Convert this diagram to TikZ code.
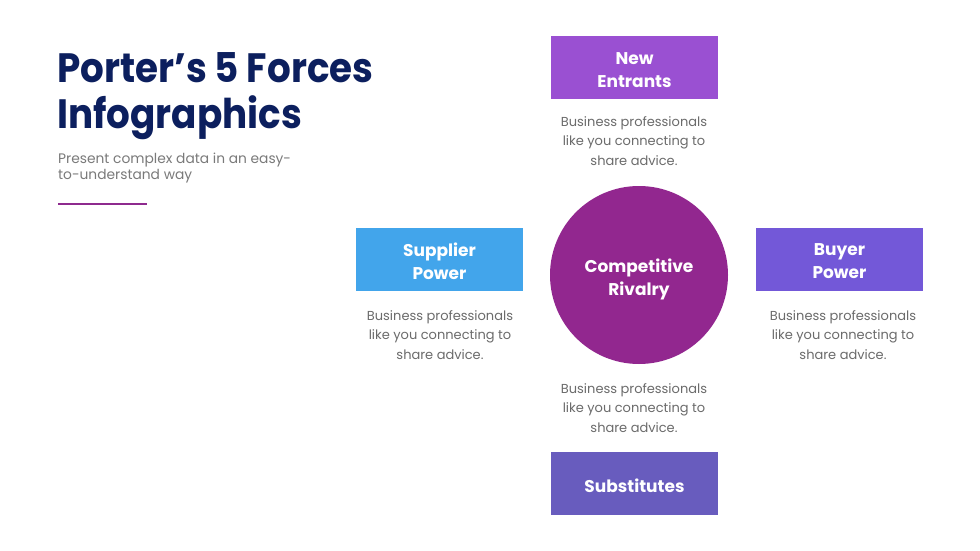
\documentclass[tikz,border=0pt]{standalone}
\usepackage{fontspec}
\setmainfont{Poppins}
\definecolor{navy}{HTML}{0C1F5E}
\definecolor{subgray}{HTML}{7A7A7A}
\definecolor{descgray}{HTML}{6B6B6B}
\definecolor{accent}{HTML}{8E2A8E}
\definecolor{cnew}{HTML}{9A50D2}
\definecolor{csup}{HTML}{42A5EB}
\definecolor{cbuy}{HTML}{7358D8}
\definecolor{csub}{HTML}{685CBE}
\definecolor{ccirc}{HTML}{92278F}
\tikzset{
  forcebox/.style={minimum width=167pt, minimum height=63pt, inner sep=0pt},
  boxtext/.style={text=white, inner sep=0pt, yshift=-2.5pt,
    font=\fontsize{17}{23}\selectfont\bfseries, align=center},
  desc/.style={text=descgray, font=\fontsize{13}{19.5}\selectfont, align=center, inner sep=0pt},
  titletext/.style={anchor=base west, inner sep=0pt, text=navy, font=\fontsize{41}{46}\selectfont\bfseries},
  subtext/.style={anchor=base west, inner sep=0pt, text=subgray, font=\fontsize{13.8}{16}\selectfont},
}
\begin{document}
\begin{tikzpicture}[x=1pt,y=-1pt]
\fill[white] (0,0) rectangle (980,551);
\useasboundingbox (0,0) rectangle (980,551);
% title
\node[titletext] (t1) at (57,82) {\scalebox{0.91}[1]{Porter’s 5 Forces}};
\node[titletext] (t2) at (57,128) {\scalebox{0.91}[1]{Infographics}};
\node[subtext] (s1) at (58,163) {Present complex data in an easy-};
\node[subtext] (s2) at (58,179) {to-understand way};
\coordinate (la) at (58,204);
\coordinate (lb) at (147,204);
\draw[accent, line width=2.5pt] (la) -- (lb);
% boxes
\node[forcebox, fill=cnew] (new) at (634.5,67.5) {};
\node[forcebox, fill=csup] (sup) at (439.5,259) {};
\node[forcebox, fill=cbuy] (buy) at (839.5,259) {};
\node[forcebox, fill=csub] (subs) at (634.5,483) {};
\node[boxtext] (newt) at (new.center) {New\\Entrants};
\node[boxtext] (supt) at (sup.center) {Supplier\\Power};
\node[boxtext] (buyt) at (buy.center) {Buyer\\Power};
\node[boxtext] (subt) at (subs.center) {Substitutes};
% circle
\node[circle, fill=ccirc, minimum size=178pt, inner sep=0pt] (riv) at (639,275) {};
\node[boxtext, yshift=-1.5pt] (rivt) at (riv.center) {Competitive\\Rivalry};
% descriptions
\node[desc] (dnew) at (634,141) {Business professionals\\like you connecting to\\share advice.};
\node[desc] (dsup) at (440,335) {Business professionals\\like you connecting to\\share advice.};
\node[desc] (dbuy) at (843,335) {Business professionals\\like you connecting to\\share advice.};
\node[desc] (dsub) at (634,408) {Business professionals\\like you connecting to\\share advice.};
\end{tikzpicture}
\end{document}
